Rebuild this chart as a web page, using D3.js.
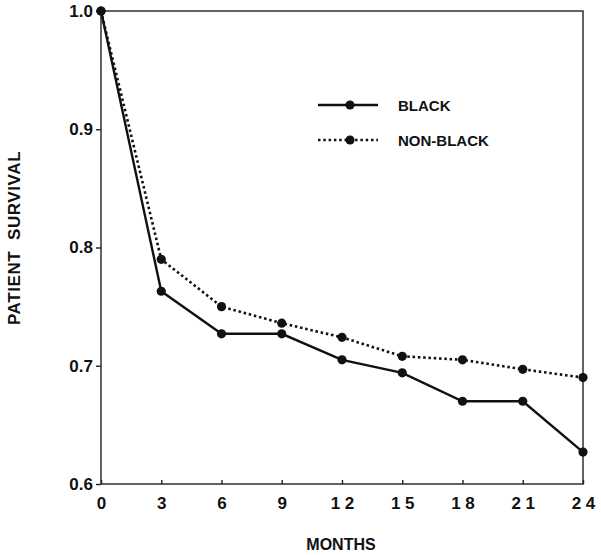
<!DOCTYPE html>
<html>
<head>
<meta charset="utf-8">
<script src="https://cdn.jsdelivr.net/npm/d3@7"></script>
<style>
  body { margin: 0; background: #fff; }
  text { font-family: "Liberation Sans", Arial, sans-serif; font-weight: bold; fill: #111; }
</style>
</head>
<body>
<div id="chart"></div>
<script>
// months and survival values
var months = [0, 3, 6, 9, 12, 15, 18, 21, 24];
var black = [1.0, 0.763, 0.727, 0.727, 0.705, 0.694, 0.670, 0.670, 0.627];
var nonBlack = [1.0, 0.790, 0.750, 0.736, 0.724, 0.708, 0.705, 0.697, 0.690];
var yTicks = [0.6, 0.7, 0.8, 0.9, 1.0];
var seriesNames = ["BLACK", "NON-BLACK"];

var width = 601, height = 555;
var margin = {top: 11, right: 18, bottom: 71, left: 101};
var w = width - margin.left - margin.right,
    h = height - margin.top - margin.bottom;

var svg = d3.select("#chart").append("svg")
  .attr("width", width)
  .attr("height", height);

var g = svg.append("g")
  .attr("transform", "translate(" + margin.left + "," + margin.top + ")");

var x = d3.scaleLinear().domain([0, 24]).range([0, w]);
var y = d3.scaleLinear().domain([0.6, 1.0]).range([h, 0]);

// frame
g.append("rect")
  .attr("x", 0).attr("y", 0)
  .attr("width", w).attr("height", h)
  .attr("fill", "none")
  .attr("stroke", "#222")
  .attr("stroke-width", 1.4);

// x axis
var xAxis = g.append("g")
  .attr("transform", "translate(0," + h + ")")
  .call(d3.axisBottom(x).tickValues(months).tickSizeInner(-4).tickSizeOuter(0).tickPadding(13)
    .tickFormat(function(d) { return String(d).split("").join(" "); }));
xAxis.select(".domain").remove();
xAxis.selectAll("line").attr("stroke", "#222").attr("stroke-width", 1.4);
xAxis.selectAll("text").style("font-size", "17px").style("white-space", "pre").attr("fill", "#111");

// y axis
var yAxis = g.append("g")
  .call(d3.axisLeft(y).tickValues(yTicks).tickSizeInner(5).tickSizeOuter(0).tickPadding(3)
    .tickFormat(d3.format(".1f")));
yAxis.select(".domain").remove();
yAxis.selectAll("line").attr("stroke", "#222").attr("stroke-width", 1.4);
yAxis.selectAll("text").style("font-size", "17px").attr("fill", "#111");

// axis titles
svg.append("text")
  .attr("x", margin.left + w / 2 - 1)
  .attr("y", 550)
  .attr("text-anchor", "middle")
  .style("font-size", "16px")
  .text("MONTHS");

svg.append("text")
  .attr("transform", "translate(20,238) rotate(-90)")
  .attr("text-anchor", "middle")
  .style("font-size", "17px")
  .style("white-space", "pre")
  .style("letter-spacing", "0.6px")
  .text("PATIENT  SURVIVAL");

var line = d3.line()
  .x(function(d, i) { return x(months[i]); })
  .y(function(d) { return y(d); });

// non-black (dotted) first, black solid on top
g.append("path")
  .datum(nonBlack)
  .attr("d", line)
  .attr("fill", "none")
  .attr("stroke", "#111")
  .attr("stroke-width", 2.6)
  .attr("stroke-dasharray", "2.5,2.8");

g.append("path")
  .datum(black)
  .attr("d", line)
  .attr("fill", "none")
  .attr("stroke", "#111")
  .attr("stroke-width", 2.4);

g.selectAll(".dotNB")
  .data(nonBlack)
  .enter().append("circle")
  .attr("cx", function(d, i) { return x(months[i]); })
  .attr("cy", function(d) { return y(d); })
  .attr("r", 4.6)
  .attr("fill", "#111");

g.selectAll(".dotB")
  .data(black)
  .enter().append("circle")
  .attr("cx", function(d, i) { return x(months[i]); })
  .attr("cy", function(d) { return y(d); })
  .attr("r", 4.6)
  .attr("fill", "#111");

// legend
var legend = svg.append("g").attr("transform", "translate(318,105)");
seriesNames.forEach(function(name, i) {
  var row = legend.append("g").attr("transform", "translate(0," + (i * 35) + ")");
  row.append("line")
    .attr("x1", 0).attr("x2", 60)
    .attr("y1", 0).attr("y2", 0)
    .attr("stroke", "#111")
    .attr("stroke-width", i === 0 ? 2.4 : 2.6)
    .attr("stroke-dasharray", i === 0 ? null : "2.5,2.8");
  row.append("circle")
    .attr("cx", 32).attr("cy", 0).attr("r", 4.6).attr("fill", "#111");
  row.append("text")
    .attr("x", 80).attr("y", 6)
    .style("font-size", "15px")
    .text(name);
});
</script>
</body>
</html>
